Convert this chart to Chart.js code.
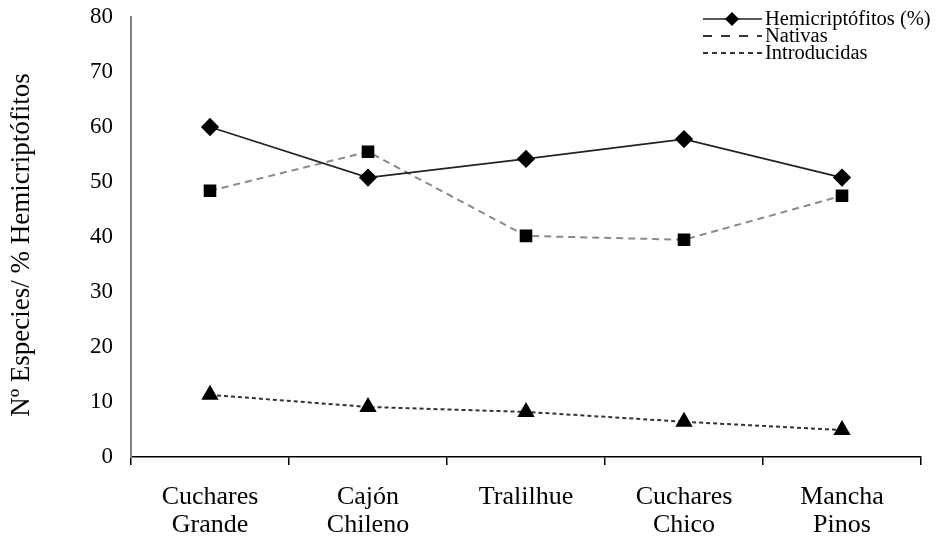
<!DOCTYPE html>
<html>
<head>
<meta charset="utf-8">
<script src="https://cdn.jsdelivr.net/npm/chart.js@4.4.1/dist/chart.umd.min.js"></script>
<style>
    html, body { margin: 0; padding: 0; background: #fff; }
</style>
</head>
<body>
<canvas id="grafico" width="938" height="542"></canvas>
<script>
// Datos
const sitios = [['Cuchares', 'Grande'], ['Cajón', 'Chileno'], 'Tralilhue', ['Cuchares', 'Chico'], ['Mancha', 'Pinos']];
const hemicriptofitos = [60, 50.8, 54.2, 57.8, 50.8];
const nativas = [48.4, 55.5, 40.2, 39.5, 47.5];
const introducidas = [11.3, 9.1, 8.2, 6.4, 4.9];
const yTicks = [0, 10, 20, 30, 40, 50, 60, 70, 80];
const tituloY = 'Nº Especies/ % Hemicriptófitos';

const SERIF = '"Liberation Serif", "Times New Roman", serif';

// Titulo del eje Y (un poco por debajo del centro, como en el original)
const tituloPlugin = {
    id: 'tituloPlugin',
    afterDraw(chart) {
        const ctx = chart.ctx;
        ctx.save();
        ctx.translate(22, 245);
        ctx.rotate(-Math.PI / 2);
        ctx.fillStyle = '#000';
        ctx.font = '27px ' + SERIF;
        ctx.textAlign = 'center';
        ctx.textBaseline = 'middle';
        ctx.fillText(tituloY, 0, 0);
        ctx.restore();
    }
};

// Leyenda propia arriba a la derecha (muestra del trazo + texto)
const leyendaPlugin = {
    id: 'leyendaPlugin',
    afterDraw(chart) {
        const ctx = chart.ctx;
        const x0 = 703, x1 = 762, xt = 765;
        const filas = [19, 36, 53];
        ctx.save();
        chart.data.datasets.forEach((ds, i) => {
            const y = filas[i];
            ctx.strokeStyle = ds.legendColor || ds.borderColor;
            ctx.lineWidth = ds.borderWidth;
            ctx.setLineDash(ds.legendDash || ds.borderDash || []);
            ctx.beginPath();
            ctx.moveTo(x0, y);
            ctx.lineTo(x1, y);
            ctx.stroke();
            ctx.setLineDash([]);
            if (ds.legendMarker) {
                ctx.fillStyle = '#000';
                ctx.beginPath();
                const cx = 732, r = 7;
                ctx.moveTo(cx, y - r);
                ctx.lineTo(cx + r, y);
                ctx.lineTo(cx, y + r);
                ctx.lineTo(cx - r, y);
                ctx.closePath();
                ctx.fill();
            }
            ctx.fillStyle = '#000';
            ctx.font = '20.5px ' + SERIF;
            ctx.textBaseline = 'middle';
            ctx.textAlign = 'left';
            ctx.fillText(ds.label, xt, y + 1);
        });
        ctx.restore();
    }
};

new Chart(document.getElementById('grafico').getContext('2d'), {
    type: 'line',
    data: {
        labels: sitios,
        datasets: [
            {
                label: 'Hemicriptófitos (%)',
                data: hemicriptofitos,
                borderColor: '#222',
                borderWidth: 1.6,
                pointStyle: 'rectRot',
                pointRadius: 8,
                pointBackgroundColor: '#000',
                pointBorderColor: '#000',
                legendMarker: true,
                tension: 0
            },
            {
                label: 'Nativas',
                data: nativas,
                borderColor: '#8a8a8a',
                borderWidth: 2,
                borderDash: [7, 5],
                legendColor: '#333',
                legendDash: [9, 9],
                pointStyle: 'rect',
                pointRadius: 7.5,
                pointBackgroundColor: '#000',
                pointBorderColor: '#000',
                tension: 0
            },
            {
                label: 'Introducidas',
                data: introducidas,
                borderColor: '#333',
                borderWidth: 2,
                borderDash: [4, 3],
                legendDash: [5, 4],
                pointStyle: 'triangle',
                pointRadius: 8,
                pointBackgroundColor: '#000',
                pointBorderColor: '#000',
                tension: 0
            }
        ]
    },
    options: {
        responsive: false,
        animation: false,
        layout: { padding: { top: 17, right: 17, left: 0, bottom: 0 } },
        plugins: {
            legend: { display: false },
            tooltip: { enabled: false }
        },
        scales: {
            x: {
                type: 'category',
                offset: true,
                grid: {
                    offset: true,
                    drawOnChartArea: false,
                    drawTicks: true,
                    tickLength: 8,
                    color: '#000',
                    lineWidth: 1.5
                },
                border: { color: '#000', width: 1.5 },
                ticks: {
                    color: '#000',
                    font: { family: SERIF, size: 26, lineHeight: 1.08 },
                    padding: 18,
                    maxRotation: 0,
                    autoSkip: false
                },
                afterFit: (scale) => { scale.height = 85; }
            },
            y: {
                min: 0,
                max: 80,
                afterBuildTicks: (scale) => { scale.ticks = yTicks.map(v => ({ value: v })); },
                grid: { display: false, drawTicks: false },
                border: { color: '#808080', width: 2 },
                ticks: {
                    color: '#000',
                    font: { family: SERIF, size: 23 },
                    padding: 18
                },
                afterFit: (scale) => {
                    scale.width = 131;
                    scale.paddingTop = 0;
                    scale.paddingBottom = 0;
                }
            }
        }
    },
    plugins: [leyendaPlugin, tituloPlugin]
});
</script>
</body>
</html>
